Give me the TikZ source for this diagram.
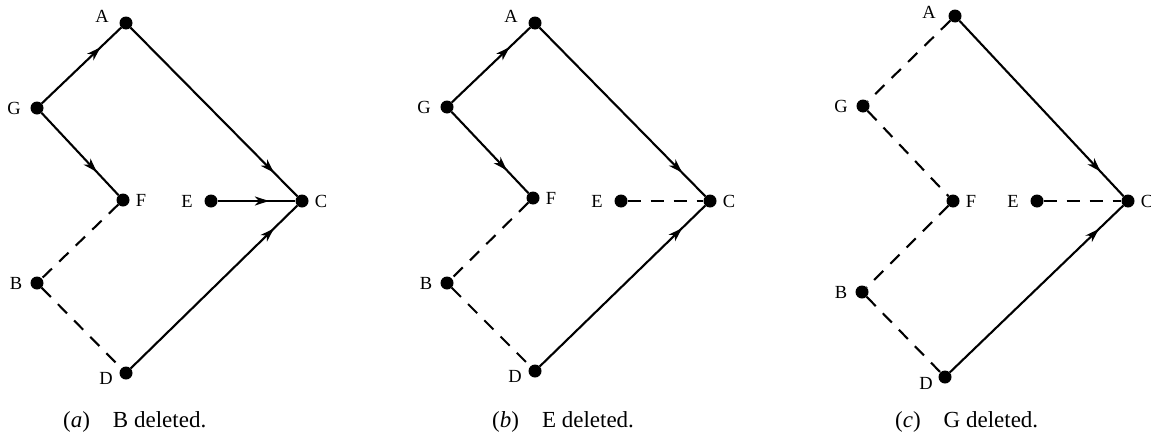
\documentclass[tikz,border=0pt]{standalone}
\usepackage{fontspec}
\setmainfont{Liberation Serif}
\usetikzlibrary{arrows.meta,decorations.markings}
\newcommand\labfont{\fontsize{18.5}{22}\selectfont}
\newcommand\capfont{\fontsize{23}{27}\selectfont}
\tikzset{
  vtx/.style={circle, fill=black, inner sep=0pt, minimum size=13pt},
  lab/.style={font=\labfont, inner sep=0pt},
  capt/.style={font=\capfont, inner sep=0pt, anchor=base west},
  edgeline/.style={line width=2.1pt},
  dashedge/.style={line width=2.1pt, dash pattern=on 13pt off 10pt},
  arr/.style={edgeline, postaction={decorate}, decoration={markings,
      mark=at position #1 with {\arrow{Stealth[length=14pt,width=9pt,inset=4pt]}}}},
}
\begin{document}
\begin{tikzpicture}[x=1pt,y=-1pt]
\useasboundingbox (0,0) rectangle (1151,434);
% ---------- panel (a)
\node[vtx, label={[lab,xshift=-24pt,yshift=7pt]center:A}] (aA) at (126,23) {};
\node[vtx, label={[lab,xshift=-23pt]center:G}] (aG) at (37,108) {};
\node[vtx, label={[lab,xshift=18pt]center:F}] (aF) at (123,200) {};
\node[vtx, label={[lab,xshift=-24pt]center:E}] (aE) at (211,201) {};
\node[vtx, label={[lab,xshift=19pt]center:C}] (aC) at (302,201) {};
\node[vtx, label={[lab,xshift=-21pt]center:B}] (aB) at (37,283) {};
\node[vtx, label={[lab,xshift=-20pt,yshift=-5pt]center:D}] (aD) at (126,373) {};
\draw[arr=0.74] (aG) -- (aA);
\draw[arr=0.72] (aG) -- (aF);
\draw[arr=0.86] (aA) -- (aC);
\draw[arr=0.66] (aE) -- (aC);
\draw[arr=0.86] (aD) -- (aC);
\draw[dashedge] (aF) -- (aB);
\draw[dashedge] (aB) -- (aD);
\node[capt] (capa) at (63,427) {(\textit{a})\quad B deleted.};
% ---------- panel (b)
\node[vtx, label={[lab,xshift=-24pt,yshift=7pt]center:A}] (bA) at (535,23) {};
\node[vtx, label={[lab,xshift=-23pt]center:G}] (bG) at (447,107) {};
\node[vtx, label={[lab,xshift=18pt]center:F}] (bF) at (533,198) {};
\node[vtx, label={[lab,xshift=-24pt]center:E}] (bE) at (621,201) {};
\node[vtx, label={[lab,xshift=19pt]center:C}] (bC) at (710,201) {};
\node[vtx, label={[lab,xshift=-21pt]center:B}] (bB) at (447,283) {};
\node[vtx, label={[lab,xshift=-20pt,yshift=-5pt]center:D}] (bD) at (535,371) {};
\draw[arr=0.74] (bG) -- (bA);
\draw[arr=0.72] (bG) -- (bF);
\draw[arr=0.86] (bA) -- (bC);
\draw[arr=0.86] (bD) -- (bC);
\draw[dashedge] (bE) -- (bC);
\draw[dashedge] (bF) -- (bB);
\draw[dashedge] (bB) -- (bD);
\node[capt] (capb) at (492,427) {(\textit{b})\quad E deleted.};
% ---------- panel (c)
\node[vtx, label={[lab,xshift=-26pt,yshift=4pt]center:A}] (cA) at (955,16) {};
\node[vtx, label={[lab,xshift=-22pt]center:G}] (cG) at (863,106) {};
\node[vtx, label={[lab,xshift=18pt]center:F}] (cF) at (953,201) {};
\node[vtx, label={[lab,xshift=-24pt]center:E}] (cE) at (1037,201) {};
\node[vtx, label={[lab,xshift=19pt]center:C}] (cC) at (1128,201) {};
\node[vtx, label={[lab,xshift=-21pt]center:B}] (cB) at (862,292) {};
\node[vtx, label={[lab,xshift=-19pt,yshift=-6pt]center:D}] (cD) at (945,377) {};
\draw[arr=0.86] (cA) -- (cC);
\draw[arr=0.86] (cD) -- (cC);
\draw[dashedge] (cA) -- (cG);
\draw[dashedge] (cG) -- (cF);
\draw[dashedge] (cF) -- (cB);
\draw[dashedge] (cB) -- (cD);
\draw[dashedge] (cE) -- (cC);
\node[capt] (capc) at (895,427) {(\textit{c})\quad G deleted.};
\end{tikzpicture}
\end{document}
